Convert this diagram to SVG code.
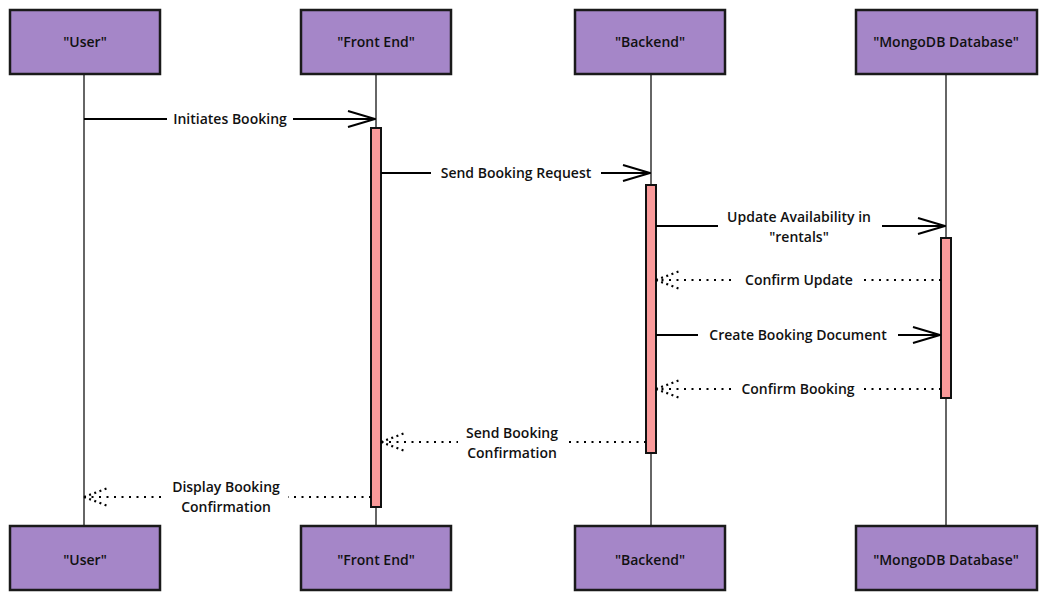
<svg xmlns="http://www.w3.org/2000/svg" width="1047" height="602" viewBox="0 0 1047 602">
<style>
.actor{fill:#a586c8;stroke:#1a1a1a;stroke-width:2.5}
.lt{font-family:"Open Sans","Liberation Sans",sans-serif;font-size:14px;fill:#111;text-anchor:middle;font-weight:600}
.life{stroke:#333;stroke-width:1.5;fill:none}
.act{fill:#fa9a9a;stroke:#111;stroke-width:2}
.msg{stroke:#000;stroke-width:2;fill:none}
.ret{stroke:#000;stroke-width:2.2;fill:none;stroke-dasharray:2 5.5}
.lbl{fill:#fff}
</style>
<defs>
<marker id="arr" markerWidth="30" markerHeight="20" refX="29" refY="10" orient="auto" markerUnits="userSpaceOnUse">
<path d="M2 2 L29 10 L2 18" fill="none" stroke="#000" stroke-width="2"/>
</marker>
<marker id="rarr" markerWidth="30" markerHeight="24" refX="27" refY="12" orient="auto" markerUnits="userSpaceOnUse">
<path d="M27 12 L3 3 M27 12 L3 21" fill="none" stroke="#000" stroke-width="2.2" stroke-dasharray="2 3.5"/>
</marker>
</defs>
<g id="lifelines">
<line class="life" x1="84" y1="75" x2="84" y2="526"/>
<line class="life" x1="376" y1="75" x2="376" y2="526"/>
<line class="life" x1="651" y1="75" x2="651" y2="526"/>
<line class="life" x1="946" y1="75" x2="946" y2="526"/>
</g>
<g id="actor-user-top"><rect class="actor" x="10" y="10" width="150" height="64"/><text class="lt" x="85" y="47">"User"</text></g>
<g id="actor-fe-top"><rect class="actor" x="301" y="10" width="150" height="64"/><text class="lt" x="376" y="47">"Front End"</text></g>
<g id="actor-be-top"><rect class="actor" x="575" y="10" width="150" height="64"/><text class="lt" x="650" y="47">"Backend"</text></g>
<g id="actor-db-top"><rect class="actor" x="856" y="10" width="181" height="64"/><text class="lt" x="946" y="47">"MongoDB Database"</text></g>
<g id="actor-user-bottom"><rect class="actor" x="10" y="526" width="150" height="64"/><text class="lt" x="85" y="565">"User"</text></g>
<g id="actor-fe-bottom"><rect class="actor" x="301" y="526" width="150" height="64"/><text class="lt" x="376" y="565">"Front End"</text></g>
<g id="actor-be-bottom"><rect class="actor" x="575" y="526" width="150" height="64"/><text class="lt" x="650" y="565">"Backend"</text></g>
<g id="actor-db-bottom"><rect class="actor" x="856" y="526" width="181" height="64"/><text class="lt" x="946" y="565">"MongoDB Database"</text></g>
<g id="activations">
<rect class="act" x="371" y="128" width="10" height="379"/>
<rect class="act" x="646" y="185" width="10" height="268"/>
<rect class="act" x="941" y="238" width="10" height="160"/>
</g>
<g id="connectors">
<line class="msg" x1="84" y1="119" x2="375" y2="119" marker-end="url(#arr)"/>
<rect class="lbl" x="167" y="110" width="126" height="18"/>
<text class="lt" x="230" y="124">Initiates Booking</text>

<line class="msg" x1="381" y1="173" x2="650" y2="173" marker-end="url(#arr)" stroke-width="2.5"/>
<rect class="lbl" x="431" y="164" width="170" height="18"/>
<text class="lt" x="516" y="178">Send Booking Request</text>

<line class="msg" x1="656" y1="226" x2="945" y2="226" marker-end="url(#arr)" stroke-width="2.5"/>
<rect class="lbl" x="718" y="207" width="164" height="38"/>
<text class="lt" x="799" y="222">Update Availability in</text>
<text class="lt" x="799" y="242">"rentals"</text>

<line class="ret" x1="941" y1="280" x2="656" y2="280" marker-end="url(#rarr)"/>
<rect class="lbl" x="736" y="271" width="124" height="18"/>
<text class="lt" x="799" y="285">Confirm Update</text>

<line class="msg" x1="656" y1="335" x2="940" y2="335" marker-end="url(#arr)"/>
<rect class="lbl" x="698" y="326" width="200" height="18"/>
<text class="lt" x="798" y="340">Create Booking Document</text>

<line class="ret" x1="941" y1="389" x2="656" y2="389" marker-end="url(#rarr)"/>
<rect class="lbl" x="734" y="380" width="128" height="18"/>
<text class="lt" x="798" y="394">Confirm Booking</text>

<line class="ret" x1="646" y1="442" x2="381" y2="442" marker-end="url(#rarr)"/>
<rect class="lbl" x="458" y="423" width="108" height="38"/>
<text class="lt" x="512" y="438">Send Booking</text>
<text class="lt" x="512" y="458">Confirmation</text>

<line class="ret" x1="371" y1="497" x2="84" y2="497" marker-end="url(#rarr)"/>
<rect class="lbl" x="164" y="478" width="124" height="38"/>
<text class="lt" x="226" y="492">Display Booking</text>
<text class="lt" x="226" y="512">Confirmation</text>
</g>
</svg>
